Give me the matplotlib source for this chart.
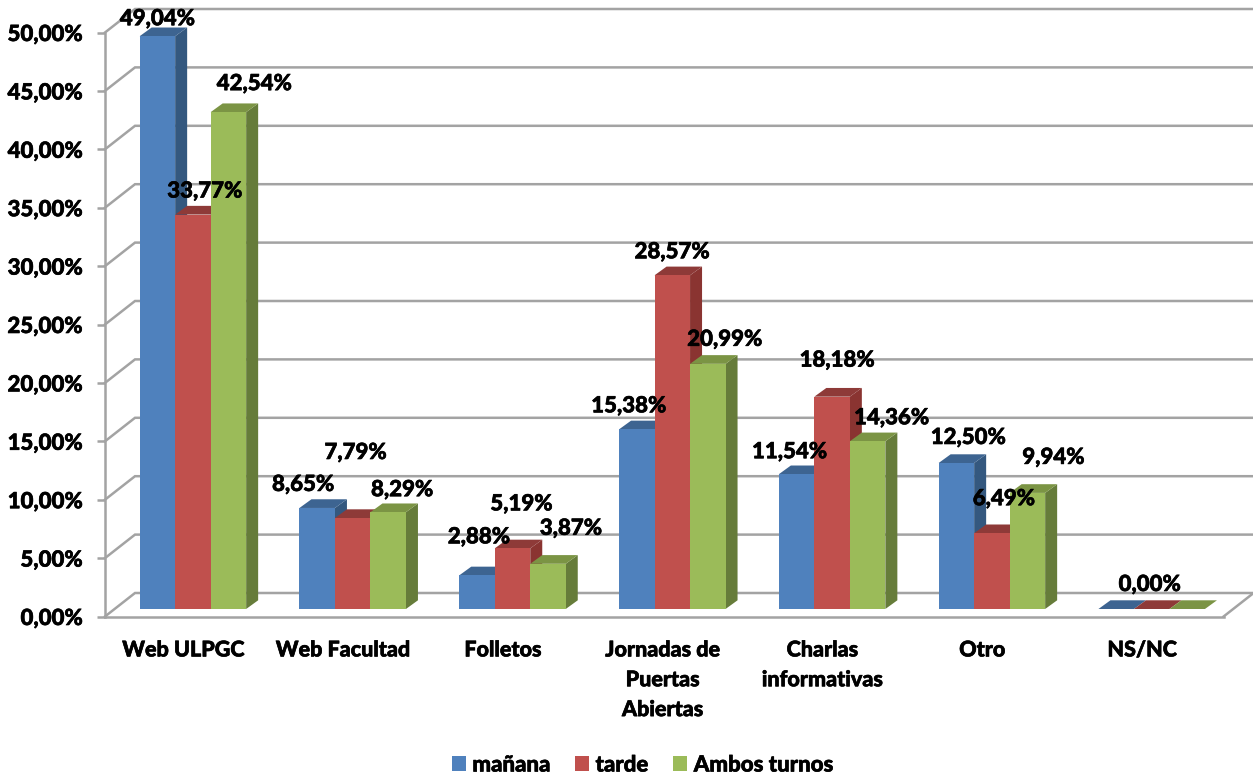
import matplotlib
matplotlib.use("Agg")
import matplotlib.pyplot as plt
import matplotlib.patheffects as pe
from matplotlib.patches import Polygon, Patch
from matplotlib.ticker import FuncFormatter, MultipleLocator

categories = ["Web ULPGC", "Web Facultad", "Folletos", "Jornadas de\nPuertas\nAbiertas",
              "Charlas\ninformativas", "Otro", "NS/NC"]
series_names = ["mañana", "tarde", "Ambos turnos"]
manana = [49.04, 8.65, 2.88, 15.38, 11.54, 12.50, 0.00]
tarde = [33.77, 7.79, 5.19, 28.57, 18.18, 6.49, 0.00]
ambos = [42.54, 8.29, 3.87, 20.99, 14.36, 9.94, 0.00]

# label offsets from the bar's front-top centre, in pixels (dx, up)
off_manana = [(0, 19), (-14, 25), (2, 40), (-8, 25), (-7, 24), (12, 27), None]
off_tarde = [(12, 25), (3, 67), (9, 46), (0, 25), (5, 38), (12, 36), (-2, 26)]
off_ambos = [(26, 30), (14, 24), (23, 37), (17, 26), (24, 25), (26, 37), None]

FONT = "Lato"
WEIGHT = 900
FS = 16
THICK = [pe.withStroke(linewidth=0.45, foreground="black")]
W, H = 1253, 778
L, R, T, B = 105, 1223.6, 32.5, 616.5
fig = plt.figure(figsize=(W / 100, H / 100), dpi=100, facecolor="white")
ax = fig.add_axes([L / W, 1 - B / H, (R - L) / W, (B - T) / H])
ax.set_xlim(0, len(categories))
ax.set_ylim(0, 50)
px_x = (R - L) / len(categories)
px_y = (B - T) / 50

GRID = "#A3A3A3"
LW = 1.8
wall_dx, wall_dy = 30 / px_x, 23.5 / px_y
for v in range(0, 51, 5):
    ax.plot([0, wall_dx, len(categories) + wall_dx], [v, v + wall_dy, v + wall_dy],
            color=GRID, lw=LW, clip_on=False, zorder=1, solid_joinstyle="miter")
ax.plot([len(categories), len(categories) + wall_dx], [0, wall_dy],
        color=GRID, lw=LW, clip_on=False, zorder=1)

colors = [("#4F81BD", "#34587F", "#3D6491"),
          ("#C0504D", "#8A3431", "#8E3A38"),
          ("#9BBB59", "#667C3A", "#7B9444")]
bar_w = 35.5 / px_x
shift_x, shift_y = 8.0 / px_x, 7.5 / px_y
dep_x, dep_y = 12 / px_x, 8.7 / px_y

all_series = [manana, tarde, ambos]
all_off = [off_manana, off_tarde, off_ambos]
for i in range(len(categories)):
    cx = i + 0.5 + shift_x
    for s, vals in enumerate(all_series):
        v = vals[i]
        x0 = cx + (s - 1.5) * bar_w
        x1 = x0 + bar_w
        y0 = shift_y
        y1 = shift_y + v
        front, side, top = colors[s]
        z = 3 + i + s * 0.1
        ax.add_patch(Polygon([(x1, y0), (x1 + dep_x, y0 + dep_y), (x1 + dep_x, y1 + dep_y), (x1, y1)],
                             fc=side, ec="none", clip_on=False, zorder=z))
        ax.add_patch(Polygon([(x0, y1), (x1, y1), (x1 + dep_x, y1 + dep_y), (x0 + dep_x, y1 + dep_y)],
                             fc=top, ec="none", clip_on=False, zorder=z))
        if v > 0:
            ax.add_patch(Polygon([(x0, y0), (x1, y0), (x1, y1), (x0, y1)],
                                 fc=front, ec="none", clip_on=False, zorder=z))

for i in range(len(categories)):
    cx = i + 0.5 + shift_x
    for s, vals in enumerate(all_series):
        off = all_off[s][i]
        if off is None:
            continue
        v = vals[i]
        x = cx + (s - 1) * bar_w
        ax.annotate(f"{v:.2f}%".replace(".", ","), (x, v + shift_y),
                    xytext=(off[0] * 0.72, (off[1] - 1.5) * 0.72), textcoords="offset points",
                    ha="center", va="center", fontsize=FS, fontweight=WEIGHT,
                    family=FONT, color="black", zorder=50, annotation_clip=False,
                    path_effects=THICK)

for sp in ["top", "right"]:
    ax.spines[sp].set_visible(False)
for sp in ["left", "bottom"]:
    ax.spines[sp].set_color(GRID)
    ax.spines[sp].set_linewidth(LW)
    ax.spines[sp].set_zorder(2)
ax.patch.set_visible(False)
ax.yaxis.set_major_locator(MultipleLocator(5))
ax.yaxis.set_major_formatter(FuncFormatter(lambda v, p: f"{v:.2f}%".replace(".", ",")))
ax.tick_params(axis="y", length=6, width=LW, color=GRID, pad=10)
ax.set_xticks([i + 0.49 for i in range(len(categories))])
ax.set_xticklabels(categories, linespacing=1.52)
ax.tick_params(axis="x", length=0, pad=16.5)
for t in ax.get_yticklabels():
    t.set_family(FONT)
    t.set_fontweight(WEIGHT)
    t.set_fontsize(FS)
    t.set_path_effects(THICK)
for t in ax.get_xticklabels():
    t.set_family(FONT)
    t.set_fontweight(WEIGHT)
    t.set_fontsize(15.5)
    t.set_verticalalignment("top")
    t.set_path_effects(THICK)

handles = [Patch(fc=colors[s][0], ec="none", label=series_names[s]) for s in range(3)]
leg = fig.legend(handles=handles, loc="center", bbox_to_anchor=(642.5 / W, 1 - 765 / H), ncol=3,
                 frameon=False, handlelength=0.62, handleheight=0.62, handletextpad=0.3,
                 columnspacing=1.12, borderpad=0,
                 prop={"family": FONT, "weight": WEIGHT, "size": FS})
for t in leg.get_texts():
    t.set_path_effects(THICK)
fig.savefig("out.png", dpi=100)
